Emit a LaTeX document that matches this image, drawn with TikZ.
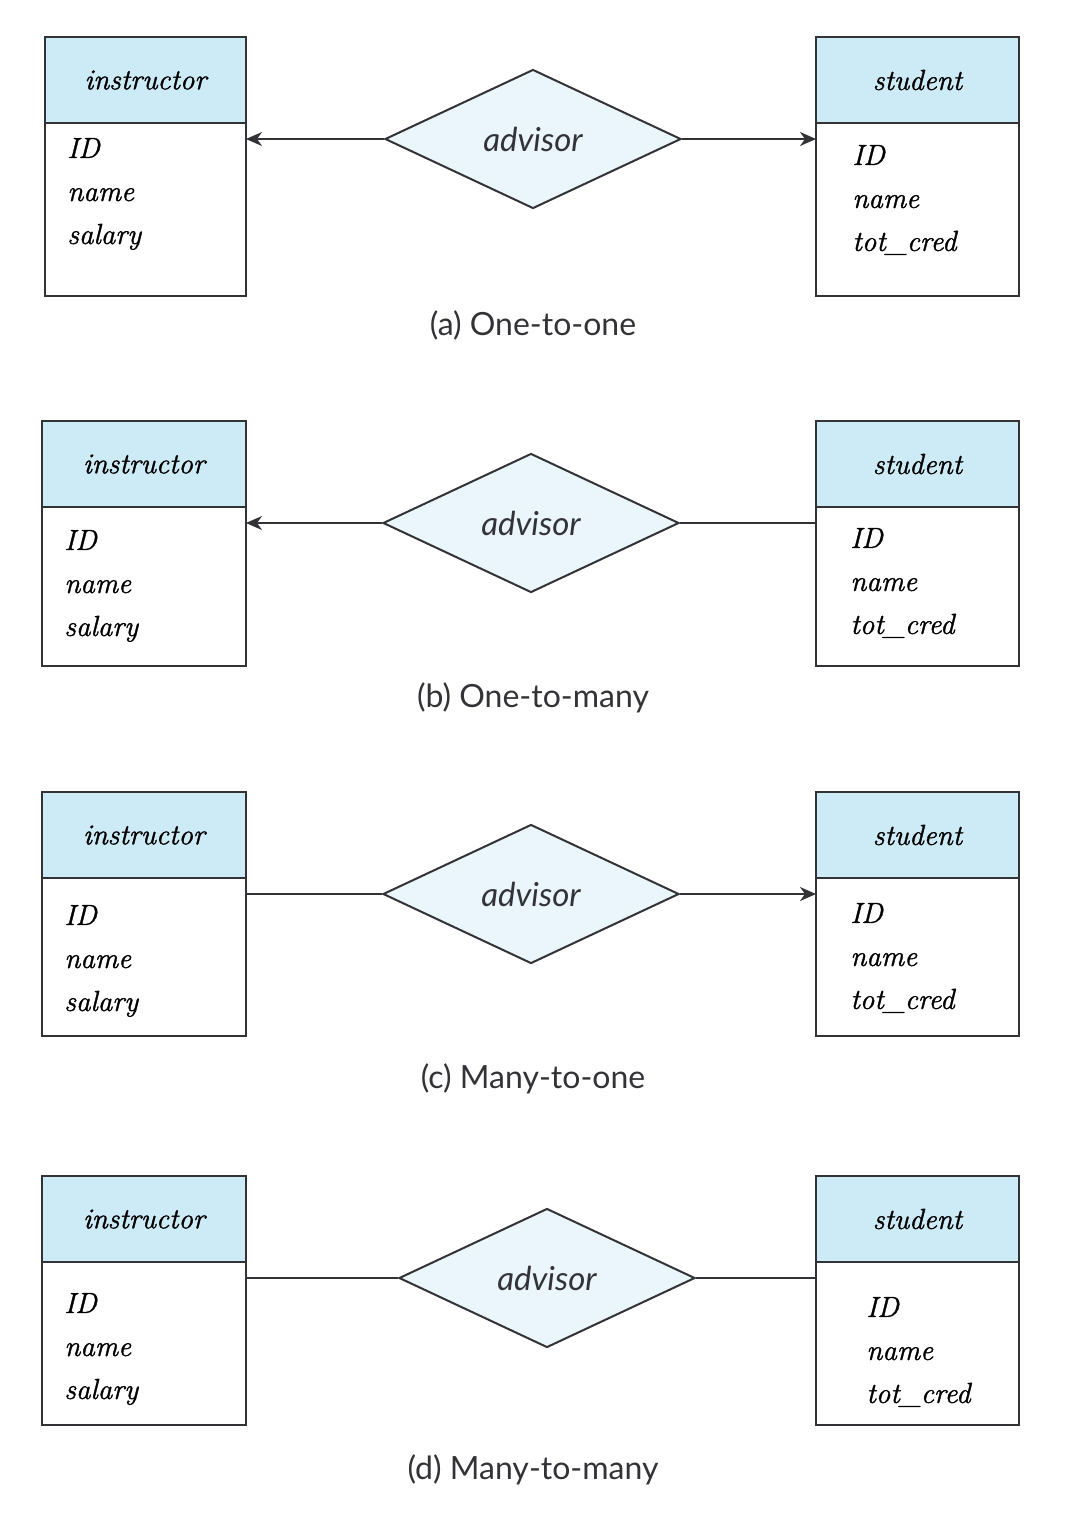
\documentclass[tikz,border=0pt]{standalone}
\usepackage{fontspec}
\setsansfont{Lato}
\newfontfamily\entityfont{Latin Modern Roman}[ItalicFeatures={FakeBold=1.2}]
\usetikzlibrary{arrows.meta,shapes.geometric,positioning}

\definecolor{headblue}{RGB}{205,235,247}
\definecolor{relblue}{RGB}{234,246,252}
\definecolor{linegray}{RGB}{51,51,55}

\tikzset{
  entityhead/.style={draw=linegray, line width=1pt, fill=headblue,
    minimum width=101.5pt, minimum height=43pt, outer sep=0pt,
    font=\entityfont\fontsize{14.5}{18}\selectfont\itshape},
  entitybody/.style={draw=linegray, line width=1pt, fill=white,
    minimum width=101.5pt, outer sep=0pt},
  attrs/.style={align=left, inner sep=0pt,
    font=\entityfont\fontsize{14.5}{21.5}\selectfont\itshape},
  relation/.style={diamond, draw=linegray, line width=1pt, fill=relblue,
    minimum width=148pt, minimum height=69.5pt, inner sep=0pt,
    font=\fontsize{16.5}{18}\selectfont\sffamily\itshape, text=linegray},
  caption/.style={font=\fontsize{16}{18}\selectfont\sffamily,
    text=linegray},
  tomany/.style={draw=linegray, line width=1pt},
  toone/.style={tomany, -{Stealth[length=8pt, width=7pt, inset=2.5pt]}}
}

\begin{document}
\begin{tikzpicture}[x=0.5pt, y=-0.5pt]
  \useasboundingbox (0,0) rectangle (1070,1522);

  % one panel per cardinality: top, bottom, instructor x, diamond x,
  % caption y, attribute y (instructor / student), student text x, tips
  \foreach \p/\t/\b/\ix/\dx/\cy/\iy/\sy/\sx/\la/\ra/\cap in {
      a/37/296/45/533/325/194/200/852/toone/toone/{(a) One-to-one},
      b/421/666/42/531/698/586/583/850/toone/tomany/{(b) One-to-many},
      c/792/1036/42/531/1079/961/958/850/tomany/toone/{(c) Many-to-one},
      d/1176/1425/42/547/1470/1349/1352/866/tomany/tomany/{(d) Many-to-many}}
  {
    \pgfmathsetmacro\bh{(\b-\t-86)/2}
    \pgfmathsetmacro\iw{(246-\ix)/2}

    \node (ihead\p) at (\ix,\t) [entityhead, anchor=north west,
      minimum width=\iw pt] {instructor};
    \node (ibody\p) [entitybody, below=0pt of ihead\p,
      minimum width=\iw pt, minimum height=\bh pt] {};
    \node (iattr\p) at (\ix+22,\iy) [attrs, anchor=west] {ID\\name\\salary};

    \node (shead\p) at (816,\t) [entityhead, anchor=north west] {student};
    \node (sbody\p) [entitybody, below=0pt of shead\p, minimum height=\bh pt] {};
    \node (sattr\p) at (\sx,\sy) [attrs, anchor=west] {ID\\name\\tot\_cred};

    \node (adv\p) at (\dx,\t+102) [relation] {advisor};
    \node (cap\p) at (533,\cy) [caption] {\cap};

    \draw[\la] (adv\p.west) -- (adv\p.west -| ibody\p.east);
    \draw[\ra] (adv\p.east) -- (adv\p.east -| sbody\p.west);
  }
\end{tikzpicture}
\end{document}
